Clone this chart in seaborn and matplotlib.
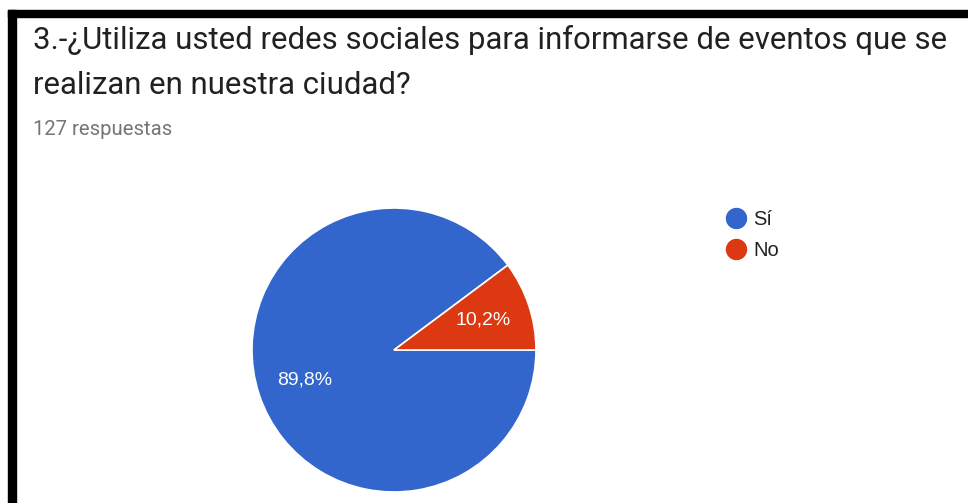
import matplotlib
matplotlib.use("Agg")
import matplotlib.pyplot as plt
from matplotlib.lines import Line2D
from matplotlib.patches import Rectangle
import numpy as np
import seaborn as sns

# Survey results
labels = ["Sí", "No"]
shares = [89.8, 10.2]
pct_text = ["89,8%", "10,2%"]
title_lines = ["3.-¿Utiliza usted redes sociales para informarse de eventos que se",
               "realizan en nuestra ciudad?"]
subtitle = "127 respuestas"

sns.set_theme(style="white")
plt.rcParams["font.family"] = ["Roboto", "DejaVu Sans"]
colors = sns.color_palette(["#3366CC", "#DC3912"])
label_font = ["Liberation Sans", "DejaVu Sans"]

W, H = 968, 503
fig = plt.figure(figsize=(W / 100, H / 100), dpi=100)
fig.patch.set_facecolor("white")

def px(x, y):
    return x / W, 1 - y / H

# Black frame (top and left)
fig.patches.append(Rectangle(px(8, 17), (W - 8) / W, 7 / H, transform=fig.transFigure,
                             color="black", zorder=5))
fig.patches.append(Rectangle(px(8, H), 8 / W, (H - 10) / H, transform=fig.transFigure,
                             color="black", zorder=5))

# Title and response count
fig.text(*px(33, 49), title_lines[0], fontsize=22.4, color="#212121", va="baseline")
fig.text(*px(33, 94), title_lines[1], fontsize=22.4, color="#212121", va="baseline")
fig.text(*px(33, 135), subtitle, fontsize=14.6, color="#757575", va="baseline")

# Pie
cx, cy, r = 394, 350, 142
ax = fig.add_axes([(cx - r) / W, (H - cy - r) / H, 2 * r / W, 2 * r / H])
wedges, _ = ax.pie(shares, colors=colors, startangle=0, counterclock=False,
                   wedgeprops=dict(edgecolor="white", linewidth=1.2))
for w, t in zip(wedges, pct_text):
    mid = np.deg2rad((w.theta1 + w.theta2) / 2)
    ax.text(0.66 * np.cos(mid), 0.66 * np.sin(mid), t, ha="center", va="center",
            color="white", fontsize=14, family=label_font)
ax.set_xlim(-1, 1)
ax.set_ylim(-1, 1)
ax.set_aspect("equal")
ax.axis("off")

# Legend
handles = [Line2D([], [], marker="o", linestyle="none", markersize=14.4,
                  markerfacecolor=c, markeredgecolor=c) for c in colors]
leg = fig.legend(handles, labels, loc="upper left", bbox_to_anchor=px(726, 210),
                 frameon=False, handlelength=1.0, handletextpad=0.35, labelspacing=0.6,
                 borderpad=0, borderaxespad=0,
                 prop=dict(family=label_font, size=14.5))
for t in leg.get_texts():
    t.set_color("#222222")

fig.savefig("out.png", dpi=100, facecolor="white")
